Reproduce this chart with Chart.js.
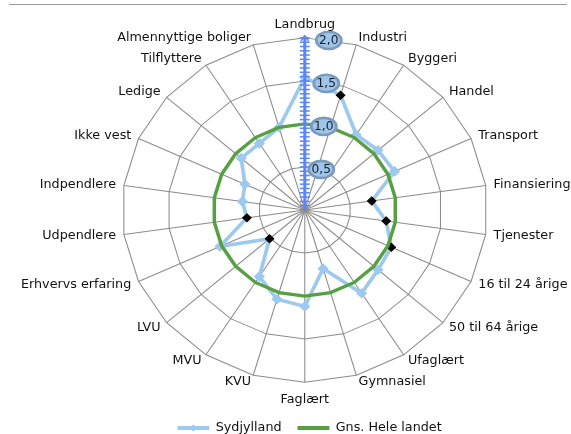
<!DOCTYPE html>
<html>
<head>
<meta charset="utf-8">
<script src="https://cdn.jsdelivr.net/npm/chart.js@4/dist/chart.umd.min.js"></script>
<style>
html, body { margin: 0; padding: 0; background: #ffffff; overflow: hidden; width: 571px; height: 434px; }
#frame { position: absolute; left: 9px; top: 4px; width: 558px; height: 0; border-top: 1px solid #9a9a9a; }
#c { position: absolute; left: 0; top: 0; }
</style>
</head>
<body>
<canvas id="c" width="571" height="444" style="width:571px;height:444px"></canvas>
<div id="frame"></div>
<script>
// ---- data ----
const categories = [
  'Landbrug', 'Industri', 'Byggeri', 'Handel', 'Transport', 'Finansiering', 'Tjenester',
  '16 til 24 årige', '50 til 64 årige', 'Ufaglært', 'Gymnasiel', 'Faglært', 'KVU', 'MVU', 'LVU',
  'Erhvervs erfaring', 'Udpendlere', 'Indpendlere', 'Ikke vest', 'Ledige', 'Tilflyttere',
  'Almennyttige boliger'
];
const seriesNames = ['Sydjylland', 'Gns. Hele landet'];
const sydjylland = [1.54, 1.39, 1.04, 1.06, 1.08, 0.74, 0.90, 1.04, 1.06, 1.15, 0.71,
                    1.12, 1.08, 0.92, 0.51, 1.02, 0.64, 0.69, 0.72, 0.92, 0.92, 1.00];
const helelandet = [1, 1, 1, 1, 1, 1, 1, 1, 1, 1, 1, 1, 1, 1, 1, 1, 1, 1, 1, 1, 1, 1];
// points of Sydjylland drawn with a black marker (1 = black)
const markedPoints = [0, 1, 0, 0, 0, 1, 1, 1, 0, 0, 0, 0, 0, 0, 1, 0, 1, 0, 0, 0, 0, 0];
const tickValues = [0.5, 1.0, 1.5, 2.0];
const tickLabels = ['0,5', '1,0', '1,5', '2,0'];
const axisMin = 0;
const axisMax = 2;
const minorStep = 0.05;

// ---- styling ----
const FONT = "'DejaVu Sans', Verdana, sans-serif";
const SX = 1.062;           // horizontal stretch of the whole drawing
const BLUE = '#9dc9ef';
const GREEN = '#56a043';
const GRID = '#8c8c8c';
const AXIS = '#5a86f7';
const TEXT = '#111111';
const LABEL_GAP = 7.5;
const LEGEND_SHIFT = 13;

const decor = {
  id: 'decor',
  afterLayout(chart) {
    const lg = chart.legend;
    if (lg) { lg.left += LEGEND_SHIFT; lg.right += LEGEND_SHIFT; }
  },
  beforeDraw(chart) {
    const c = chart.ctx;
    c.save();
    c.setTransform(SX, 0, 0, 1, 0, 0);
  },
  afterDatasetsDraw(chart) {
    const s = chart.scales.r, ctx = chart.ctx;
    const cx = s.xCenter, cy = s.yCenter;
    const d = v => s.getDistanceFromCenterForValue(v);
    ctx.save();
    // value axis along the first spoke
    ctx.strokeStyle = AXIS;
    ctx.lineWidth = 2.8;
    const top = cy - d(axisMax);
    ctx.beginPath(); ctx.moveTo(cx, cy); ctx.lineTo(cx, top - 2); ctx.stroke();
    ctx.lineWidth = 1.5;
    const n = Math.round((axisMax - axisMin) / minorStep);
    for (let k = 1; k <= n; k++) {
      const y = cy - d(axisMin + k * minorStep);
      ctx.beginPath(); ctx.moveTo(cx - 4.7, y); ctx.lineTo(cx + 4.7, y); ctx.stroke();
    }
    ctx.lineWidth = 1.5;
    ctx.beginPath(); ctx.moveTo(cx - 3.5, top + 3); ctx.lineTo(cx, top - 2); ctx.lineTo(cx + 3.5, top + 3); ctx.stroke();

    // tick label badges
    ctx.font = '11.5px ' + FONT;
    ctx.textAlign = 'center';
    ctx.textBaseline = 'middle';
    tickValues.forEach((v, i) => {
      const bx = cx + (14 + 5 * v) / SX;
      const by = cy - d(v) + 2.5;
      ctx.beginPath();
      ctx.ellipse(bx, by, 11.8, 8.6, 0, 0, Math.PI * 2);
      ctx.fillStyle = '#9ec5e8';
      ctx.fill();
      ctx.lineWidth = 2.6;
      ctx.strokeStyle = '#7b9abd';
      ctx.stroke();
      ctx.fillStyle = '#15202b';
      ctx.fillText(tickLabels[i], bx, by + 0.5);
    });

    // category labels around the web
    ctx.font = '12px ' + FONT;
    ctx.fillStyle = TEXT;
    ctx.textBaseline = 'middle';
    categories.forEach((lab, i) => {
      const p = s.getPointPosition(i, s.drawingArea + LABEL_GAP);
      const deg = Math.round(s.getIndexAngle(i) * 180 / Math.PI) % 360;
      let y = p.y;
      if (deg === 0) { ctx.textAlign = 'center'; y -= 5.5; }
      else if (deg === 180) { ctx.textAlign = 'center'; y += 10; }
      else if (deg < 180) { ctx.textAlign = 'left'; }
      else { ctx.textAlign = 'right'; }
      ctx.fillText(lab, p.x, y);
    });
    ctx.restore();
  },
  afterDraw(chart) {
    const lg = chart.legend, ctx = chart.ctx;
    if (lg && lg.legendHitBoxes && lg.legendHitBoxes.length) {
      const idx = lg.legendItems.findIndex(it => it.datasetIndex === 0);
      const hb = lg.legendHitBoxes[idx];
      const x = hb.left + lg.options.labels.boxWidth / 2;
      const y = hb.top + hb.height / 2;
      ctx.save();
      ctx.fillStyle = BLUE;
      ctx.beginPath();
      ctx.moveTo(x - 3.5, y); ctx.lineTo(x, y - 3.5); ctx.lineTo(x + 3.5, y); ctx.lineTo(x, y + 3.5);
      ctx.closePath(); ctx.fill();
      ctx.restore();
    }
    ctx.restore();
  }
};

new Chart(document.getElementById('c'), {
  type: 'radar',
  data: {
    labels: categories,
    datasets: [
      {
        label: seriesNames[0],
        data: sydjylland,
        borderColor: BLUE,
        backgroundColor: BLUE,
        borderWidth: 3.5,
        fill: false,
        pointStyle: 'rectRot',
        pointRadius: markedPoints.map(m => m ? 4 : 4.6),
        pointBorderWidth: 1,
        pointBackgroundColor: markedPoints.map(m => m ? '#000000' : BLUE),
        pointBorderColor: markedPoints.map(m => m ? '#000000' : BLUE),
        order: 1
      },
      {
        label: seriesNames[1],
        data: helelandet,
        borderColor: GREEN,
        backgroundColor: GREEN,
        borderWidth: 3.3,
        fill: false,
        pointRadius: 0,
        order: 0
      }
    ]
  },
  options: {
    responsive: false,
    animation: false,
    devicePixelRatio: 1,
    layout: { padding: { left: 13, right: 27, top: 13, bottom: 0 } },
    elements: { line: { tension: 0 } },
    plugins: {
      tooltip: { enabled: false },
      legend: {
        position: 'bottom',
        labels: {
          font: { family: FONT, size: 12 },
          color: TEXT,
          boxWidth: 30,
          boxHeight: 4,
          padding: 15,
          sort: (a, b) => a.datasetIndex - b.datasetIndex,
          generateLabels: (chart) =>
            Chart.defaults.plugins.legend.labels.generateLabels(chart).map(it => Object.assign(it, { lineWidth: 0 }))
        }
      }
    },
    scales: {
      r: {
        min: axisMin,
        max: axisMax,
        ticks: { display: false, stepSize: 0.5 },
        grid: { color: GRID, lineWidth: 1 },
        angleLines: { color: GRID, lineWidth: 1 },
        pointLabels: { font: { family: FONT, size: 12 }, color: 'rgba(0,0,0,0)', padding: 5 }
      }
    }
  },
  plugins: [decor]
});
</script>
</body>
</html>
